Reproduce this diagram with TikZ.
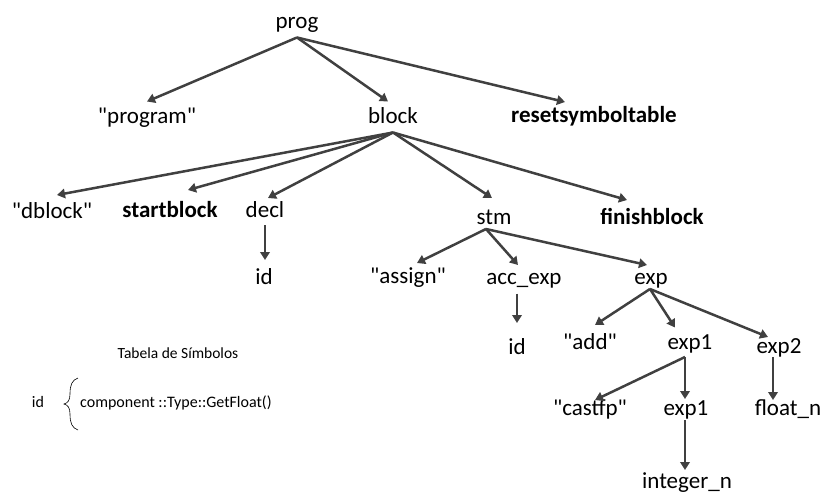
\documentclass[tikz,border=0pt]{standalone}
\usepackage{fontspec}
\setmainfont{Carlito}[Ligatures=TeXOff]
\usetikzlibrary{arrows.meta,calc}
\definecolor{edgegray}{HTML}{404040}
\tikzset{
  tn/.style={font=\fontsize{23}{27}\selectfont, inner sep=0pt, outer sep=4.5pt, text height=17pt, text depth=5pt, anchor=center},
  tnb/.style={tn, font=\fontsize{23}{27}\selectfont\bfseries},
  edge/.style={draw=edgegray, line width=2.5pt, -{Triangle[length=8pt,width=9.5pt]}},
  small/.style={font=\fontsize{15.5}{18}\selectfont, inner sep=0pt}
}
\begin{document}
\begin{tikzpicture}[x=1pt,y=-1pt]
\useasboundingbox (0,0) rectangle (828,493);
% nodes
\node[tn]  (prog)     at (297,22)  {prog};
\node[tn]  (program)  at (147,117) {"program"};
\node[tn]  (block)    at (393,117) {block};
\node[tnb] (reset)    at (594,116) {resetsymboltable};
\node[tn]  (dblock)   at (52,212)  {"dblock"};
\node[tnb] (startb)   at (170,211) {startblock};
\node[tn]  (decl)     at (265,211) {decl};
\node[tn]  (stm)      at (494,218) {stm};
\node[tnb] (finishb)  at (652,218) {finishblock};
\node[tn]  (idone)    at (264,278) {id};
\node[tn]  (assign)   at (408,277) {"assign"};
\node[tn]  (accexp)   at (524,278) {acc\_exp};
\node[tn]  (exp)      at (651,278) {exp};
\node[tn]  (idtwo)    at (517,348) {id};
\node[tn]  (add)      at (590,343) {"add"};
\node[tn]  (expone)   at (690,343) {exp1};
\node[tn]  (exptwo)   at (779,347) {exp2};
\node[tn]  (castfp)   at (590,409) {"castfp"};
\node[tn]  (exponeb)  at (686,409) {exp1};
\node[tn]  (floatn)   at (788,409) {float\_n};
\node[tn]  (integern) at (687,482) {integer\_n};
% edges (yshift is in canvas direction: positive = up)
\draw[edge] (prog.south) -- (program.north);
\draw[edge] (prog.south) -- ([xshift=-5pt]block.north);
\draw[edge] (prog.south) -- ([xshift=-29pt,yshift=-1.5pt]reset.north);
\draw[edge] (block.south) -- ([xshift=5pt,yshift=1.5pt]dblock.north);
\draw[edge] (block.south) -- ([xshift=18pt,yshift=5.5pt]startb.north);
\draw[edge] (block.south) -- ([xshift=3pt,yshift=-2.5pt]decl.north);
\draw[edge] (block.south) -- ([xshift=-2pt,yshift=4.5pt]stm.north);
\draw[edge] (block.south) -- ([xshift=-25pt,yshift=2.5pt]finishb.north);
\draw[edge] ([yshift=1.5pt]decl.south) -- ([xshift=1pt,yshift=2.5pt]idone.north);
\draw[edge] ([xshift=-8pt,yshift=4.5pt]stm.south) -- ([xshift=9pt,yshift=-1.5pt]assign.north);
\draw[edge] ([xshift=-8pt,yshift=4.5pt]stm.south) -- ([xshift=-6pt,yshift=-2.5pt]accexp.north);
\draw[edge] ([xshift=-8pt,yshift=4.5pt]stm.south) -- ([xshift=-4pt,yshift=-2.5pt]exp.north);
\draw[edge] ([xshift=-7pt]accexp.south) -- ([yshift=9.5pt]idtwo.north);
\draw[edge] ([xshift=-1pt,yshift=4.5pt]exp.south) -- ([xshift=5pt,yshift=2.5pt]add.north);
\draw[edge] ([xshift=-1pt,yshift=4.5pt]exp.south) -- ([xshift=-15pt]expone.north);
\draw[edge] ([xshift=-1pt,yshift=4.5pt]exp.south) -- ([xshift=-11pt,yshift=-5.5pt]exptwo.north);
\draw[edge] ([xshift=-5pt,yshift=1.5pt]expone.south) -- ([xshift=5pt,yshift=-6.5pt]castfp.north);
\draw[edge] ([xshift=-5pt,yshift=1.5pt]expone.south) -- ([xshift=-1pt,yshift=-5.5pt]exponeb.north);
\draw[edge] ([xshift=-6pt,yshift=5.5pt]exptwo.south) -- ([xshift=-15pt,yshift=-6.5pt]floatn.north);
\draw[edge] ([xshift=-1pt,yshift=4.5pt]exponeb.south) -- ([xshift=-2pt,yshift=-3.5pt]integern.north);
% symbol table
\node[small] (tabtitle) at (178,353) {Tabela de Símbolos};
\node[small, font=\fontsize{16}{19}\selectfont] (symid) at (38,402) {id};
\node[small, font=\fontsize{16}{19}\selectfont, anchor=west] (symcomp) at (80,403) {component ::Type::GetFloat()};
\draw[line width=0.6pt] (78,378) .. controls (72,380) and (70,385) .. (70,394)
  .. controls (70,400) and (68,403) .. (64,404)
  .. controls (68,405) and (70,408) .. (70,414)
  .. controls (70,423) and (72,428) .. (78,430);
\end{tikzpicture}
\end{document}
